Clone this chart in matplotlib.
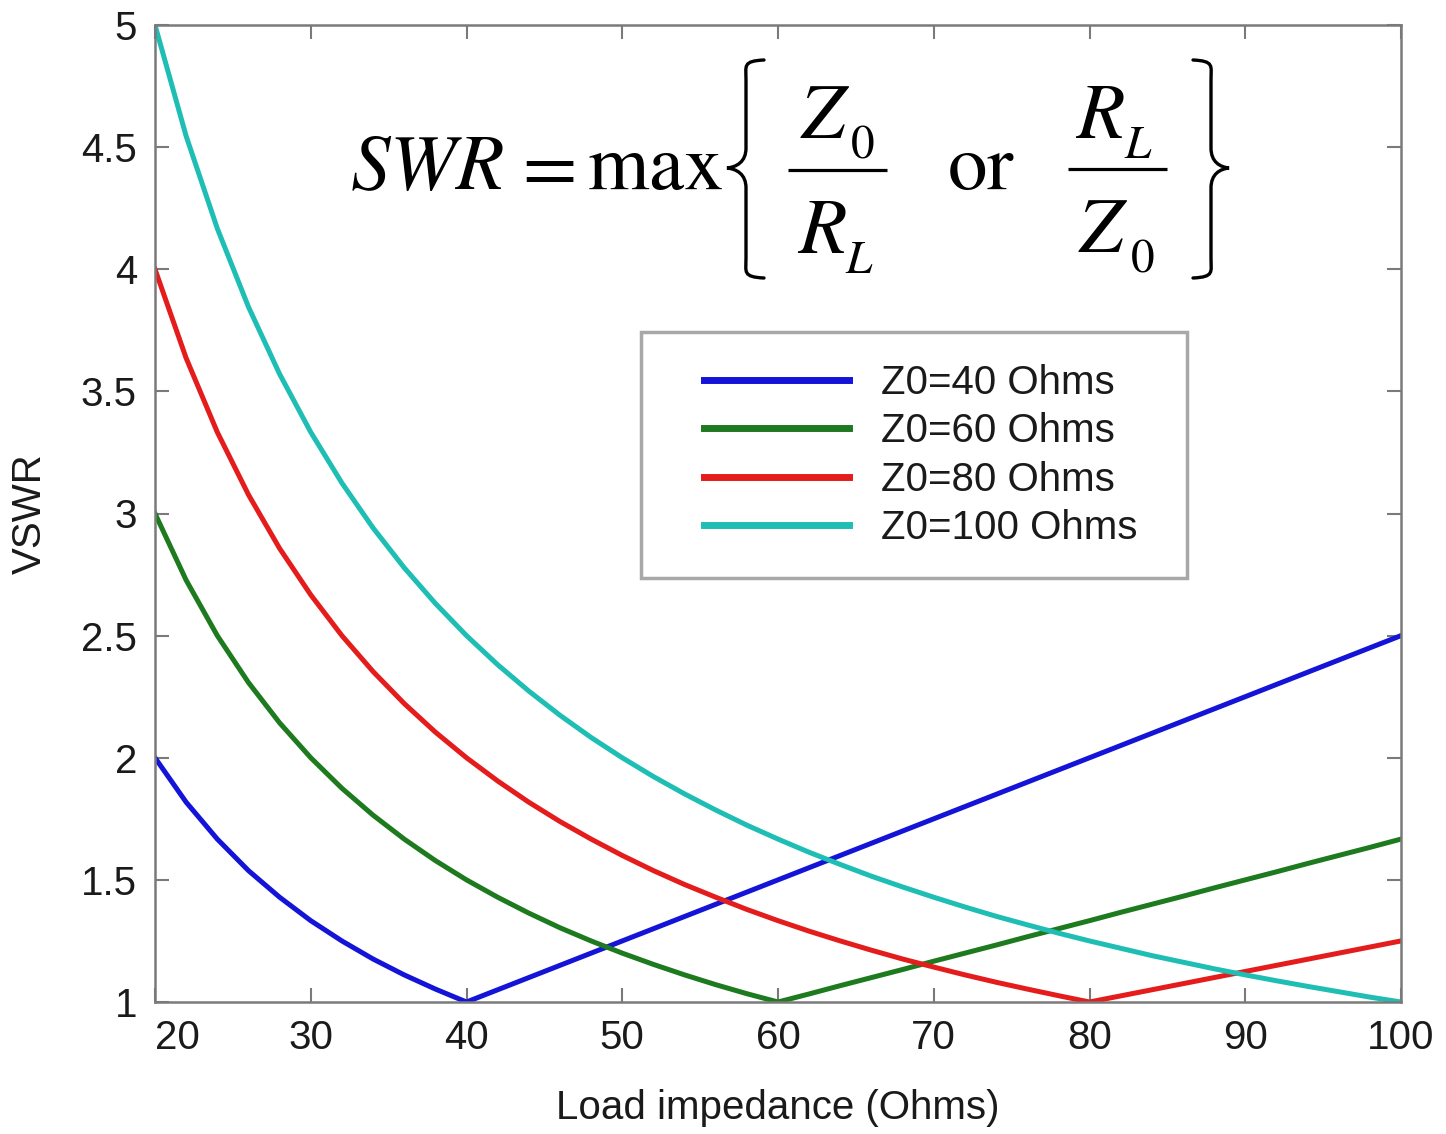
import matplotlib
matplotlib.use('Agg')
from matplotlib import pyplot as plt
from matplotlib.path import Path
from matplotlib.patches import PathPatch, Rectangle

plt.rcParams['font.family'] = ['Liberation Sans', 'DejaVu Sans']
plt.rcParams['mathtext.fontset'] = 'stix'

# load impedance samples (Ohms)
load_ohms = [20, 22, 24, 26, 28, 30, 32, 34, 36, 38, 40, 42, 44, 46, 48, 50, 52, 54, 56, 58,
             60, 62, 64, 66, 68, 70, 72, 74, 76, 78, 80, 82, 84, 86, 88, 90, 92, 94, 96, 98, 100]

# VSWR
vswr_z40 = [2.0, 1.818, 1.667, 1.538, 1.429, 1.333, 1.25, 1.176, 1.111, 1.053, 1.0,
            1.05, 1.1, 1.15, 1.2, 1.25, 1.3, 1.35, 1.4, 1.45, 1.5, 1.55, 1.6, 1.65, 1.7,
            1.75, 1.8, 1.85, 1.9, 1.95, 2.0, 2.05, 2.1, 2.15, 2.2, 2.25, 2.3, 2.35, 2.4,
            2.45, 2.5]
vswr_z60 = [3.0, 2.727, 2.5, 2.308, 2.143, 2.0, 1.875, 1.765, 1.667, 1.579, 1.5,
            1.429, 1.364, 1.304, 1.25, 1.2, 1.154, 1.111, 1.071, 1.034, 1.0,
            1.033, 1.067, 1.1, 1.133, 1.167, 1.2, 1.233, 1.267, 1.3, 1.333, 1.367, 1.4,
            1.433, 1.467, 1.5, 1.533, 1.567, 1.6, 1.633, 1.667]
vswr_z80 = [4.0, 3.636, 3.333, 3.077, 2.857, 2.667, 2.5, 2.353, 2.222, 2.105, 2.0,
            1.905, 1.818, 1.739, 1.667, 1.6, 1.538, 1.481, 1.429, 1.379, 1.333,
            1.29, 1.25, 1.212, 1.176, 1.143, 1.111, 1.081, 1.053, 1.026, 1.0,
            1.025, 1.05, 1.075, 1.1, 1.125, 1.15, 1.175, 1.2, 1.225, 1.25]
vswr_z100 = [5.0, 4.545, 4.167, 3.846, 3.571, 3.333, 3.125, 2.941, 2.778, 2.632, 2.5,
             2.381, 2.273, 2.174, 2.083, 2.0, 1.923, 1.852, 1.786, 1.724, 1.667,
             1.613, 1.563, 1.515, 1.471, 1.429, 1.389, 1.351, 1.316, 1.282, 1.25,
             1.22, 1.19, 1.163, 1.136, 1.111, 1.087, 1.064, 1.042, 1.02, 1.0]

labels = ['Z0=40 Ohms', 'Z0=60 Ohms', 'Z0=80 Ohms', 'Z0=100 Ohms']
colors = ['#1414d8', '#1e7a1e', '#e41c1c', '#1ebeb4']

xticks = [20, 30, 40, 50, 60, 70, 80, 90, 100]
yticks = [1, 1.5, 2, 2.5, 3, 3.5, 4, 4.5, 5]
ytick_labels = ['1', '1.5', '2', '2.5', '3', '3.5', '4', '4.5', '5']

W, H = 1446, 1134
fig = plt.figure(figsize=(W / 100, H / 100), dpi=100)
ax = fig.add_axes([155 / W, 1 - 1002 / H, (1401 - 155) / W, (1002 - 25) / H])

for ys, lab, col in zip([vswr_z40, vswr_z60, vswr_z80, vswr_z100], labels, colors):
    ax.plot(load_ohms, ys, color=col, lw=3.6, label=lab, solid_joinstyle='round')

ax.set_xlim(20, 100)
ax.set_ylim(1, 5)
ax.set_xticks(xticks)
ax.set_yticks(yticks)
ax.set_yticklabels(ytick_labels)

gray = '#7a7a7a'
txt = '#1a1a1a'
for s in ax.spines.values():
    s.set_color(gray)
    s.set_linewidth(1.8)
ax.tick_params(direction='in', length=10, width=1.5, color=gray, top=True, right=True,
               labelsize=29, labelcolor=txt)
ax.tick_params(axis='x', pad=12)
ax.tick_params(axis='y', pad=13)
ax.get_xticklabels()[0].set_horizontalalignment('left')

ax.set_xlabel('Load impedance (Ohms)', fontsize=29, color=txt, labelpad=23)
ax.set_ylabel('VSWR', fontsize=29, color=txt, labelpad=23)

# legend frame drawn separately (wider side margins than matplotlib's pad allows)
frame = Rectangle((641 / W, 1 - 578 / H), (1187 - 641) / W, (578 - 332) / H,
                  transform=fig.transFigure, facecolor='white', edgecolor='#a8a8a8',
                  lw=2.5, zorder=4.5, clip_on=False)
ax.add_patch(frame)
leg = ax.legend(loc='upper left', bbox_to_anchor=(704 / W, 1 - 364 / H),
                bbox_transform=fig.transFigure, borderaxespad=0, borderpad=0,
                fontsize=29, handlelength=3.6, handletextpad=0.8, labelspacing=0.26,
                frameon=False)
for h in leg.get_lines():
    h.set_linewidth(5)
for t in leg.get_texts():
    t.set_color(txt)

# formula overlay in pixel coordinates
ov = fig.add_axes([0, 0, 1, 1])
ov.set_xlim(0, W)
ov.set_ylim(H, 0)
ov.axis('off')

fs = 57
fs_sub = 34
ov.text(350, 189, r'$SWR$', fontsize=fs, ha='left', va='baseline')
ov.text(543, 189, r'$=$', fontsize=fs, ha='center', va='baseline')
ov.text(587, 189, r'$\mathrm{max}$', fontsize=fs, ha='left', va='baseline')
ov.text(947, 189, r'$\mathrm{or}$', fontsize=fs, ha='left', va='baseline')

# fractions: main symbol, then subscript set lower and smaller
for x, y, main, sub, xs in [(800, 138, 'Z', r'\mathrm{0}', 850),
                            (797, 253, 'R', 'L', 845),
                            (1075, 138, 'R', 'L', 1124),
                            (1078, 252, 'Z', r'\mathrm{0}', 1130)]:
    ov.text(x, y, '$' + main + '$', fontsize=fs, ha='left', va='baseline')
    ov.text(xs, y + 20, '$' + sub + '$', fontsize=fs_sub, ha='left', va='baseline')

ov.plot([788, 887], [170, 170], color='black', lw=2.3, solid_capstyle='butt')
ov.plot([1068, 1167], [169, 169], color='black', lw=2.3, solid_capstyle='butt')


def brace(x_end, x_spine, x_tip, y_top, y_mid, y_bot):
    d = x_spine - x_end
    verts = [(x_end, y_top),
             (x_spine + 0.2 * d, y_top + 1), (x_spine, y_top + 6), (x_spine, y_top + 20),
             (x_spine, y_mid - 20),
             (x_spine, y_mid - 6), (x_spine + 0.5 * (x_tip - x_spine), y_mid - 1), (x_tip, y_mid),
             (x_spine + 0.5 * (x_tip - x_spine), y_mid + 1), (x_spine, y_mid + 6), (x_spine, y_mid + 20),
             (x_spine, y_bot - 20),
             (x_spine, y_bot - 6), (x_spine + 0.2 * d, y_bot - 1), (x_end, y_bot)]
    codes = [Path.MOVETO,
             Path.CURVE4, Path.CURVE4, Path.CURVE4,
             Path.LINETO,
             Path.CURVE4, Path.CURVE4, Path.CURVE4,
             Path.CURVE4, Path.CURVE4, Path.CURVE4,
             Path.LINETO,
             Path.CURVE4, Path.CURVE4, Path.CURVE4]
    ov.add_patch(PathPatch(Path(verts, codes), facecolor='none', edgecolor='black',
                           lw=2.4, capstyle='round'))


brace(764, 746, 727, 60, 168, 278)
brace(1193, 1211, 1229, 60, 168, 278)

fig.savefig('out.png', dpi=100)
